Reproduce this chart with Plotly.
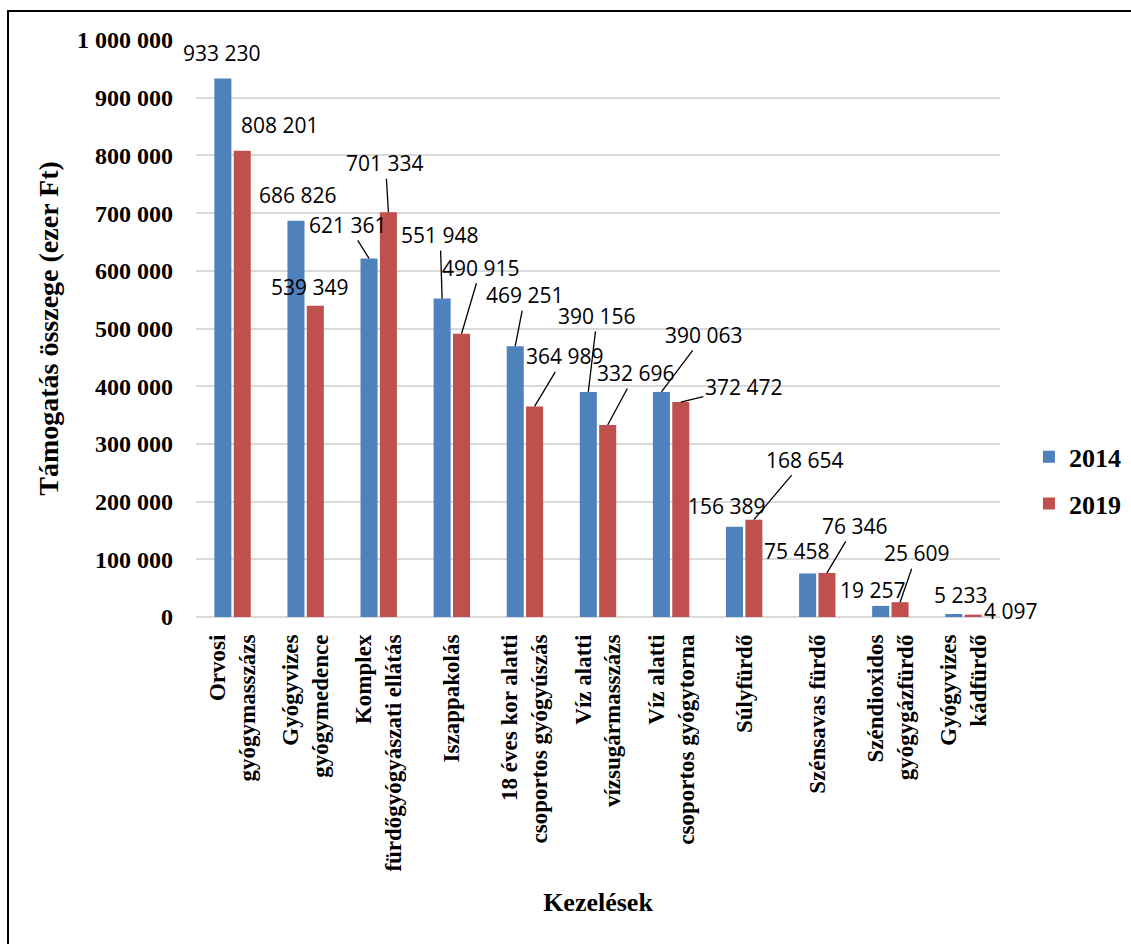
import plotly.graph_objects as go

categories = [
    "Orvosi<br>gyógymasszázs",
    "Gyógyvizes<br>gyógymedence",
    "Komplex<br>fürdőgyógyászati ellátás",
    "Iszappakolás",
    "18 éves kor alatti<br>csoportos gyógyúszás",
    "Víz alatti<br>vízsugármasszázs",
    "Víz alatti<br>csoportos gyógytorna",
    "Súlyfürdő",
    "Szénsavas fürdő",
    "Széndioxidos<br>gyógygázfürdő",
    "Gyógyvizes<br>kádfürdő",
]
values_2014 = [933230, 686826, 621361, 551948, 469251, 390156, 390063, 156389, 75458, 19257, 5233]
values_2019 = [808201, 539349, 701334, 490915, 364989, 332696, 372472, 168654, 76346, 25609, 4097]
series_names = ["2014", "2019"]
y_tick_values = [0, 100000, 200000, 300000, 400000, 500000, 600000, 700000, 800000, 900000, 1000000]

# label placement (pixel offsets of the label centre from the bar top, leader line flag)
label_offsets_2014 = [(-1, -25.5, False), (2, -26, False), (-21, -33.5, True), (-2, -63.5, True),
                      (10, -51, True), (9, -76, True), (43, -57, True), (-7, -21, False),
                      (-11, -22.5, False), (-8, -16, False), (7, -19, False)]
label_offsets_2019 = [(38, -26, False), (-5, -19, False), (-3, -49, True), (19.5, -66, True),
                      (30, -50, True), (28, -52, True), (63, -15, True), (51, -60, True),
                      (28, -47, True), (17, -49, True), (37, -4, False)]

BLUE = "#4F81BD"
RED = "#C0504D"
SERIF = "Liberation Serif"
SANS = "Open Sans"

fig = go.Figure()
fig.add_bar(x=categories, y=values_2014, name=series_names[0], marker_color=BLUE,
            marker_line_width=0, legendgroup="a")
fig.add_bar(x=categories, y=values_2019, name=series_names[1], marker_color=RED,
            marker_line_width=0, legendgroup="b")


def fmt(v):
    return f"{v:,}".replace(",", " ")


half_slot = 9.7
label_font = dict(family=SANS, size=21, color="black")
annotations = []
for vals, offs, shift in ((values_2014, label_offsets_2014, -half_slot),
                          (values_2019, label_offsets_2019, half_slot)):
    for cat, v, (dx, dy, line) in zip(categories, vals, offs):
        if line:
            annotations.append(dict(x=cat, y=v, xref="x", yref="y", text=fmt(v),
                                    showarrow=True, arrowhead=0, arrowwidth=1.3,
                                    arrowcolor="black", ax=dx, ay=dy, xshift=shift,
                                    standoff=0, startstandoff=0, font=label_font))
        else:
            annotations.append(dict(x=cat, y=v, xref="x", yref="y", text=fmt(v),
                                    showarrow=False, xshift=shift + dx, yshift=-dy,
                                    font=label_font))

fig.update_layout(
    width=1131, height=944,
    margin=dict(l=196, r=131, t=40, b=327, autoexpand=False),
    paper_bgcolor="white", plot_bgcolor="white",
    font=dict(family=SERIF, color="black"),
    barmode="group", bargap=0.47, bargroupgap=0.12,
    separators=", ",
    annotations=annotations,
    showlegend=True,
    legend=dict(x=1.036, y=0.237, xanchor="left", yanchor="middle",
                font=dict(family=SERIF, size=26, color="black", weight="bold"),
                tracegroupgap=10, itemwidth=30),
    shapes=[dict(type="rect", xref="paper", yref="paper",
                 x0=-0.2338, y0=-0.8, x1=1.3, y1=1.0503,
                 line=dict(color="black", width=2), fillcolor="rgba(0,0,0,0)")],
)
fig.update_yaxes(
    range=[0, 1000000], tickvals=y_tick_values, tickformat=",d",
    showgrid=True, gridcolor="#D9D9D9", gridwidth=1.5,
    zeroline=True, zerolinecolor="#D9D9D9", zerolinewidth=1.5,
    showline=False, ticklabelstandoff=22, automargin=False,
    tickfont=dict(family=SERIF, size=24, color="black", weight="bold"),
    title=dict(text="Támogatás összege (ezer Ft)", standoff=10,
               font=dict(family=SERIF, size=28, color="black", weight="bold")),
)
fig.update_xaxes(
    type="category", range=[-0.5, 10.5], tickangle=-90, showgrid=False, showline=False,
    ticklabelstandoff=12, automargin=False,
    tickfont=dict(family=SERIF, size=23, color="black", weight="bold"),
    title=dict(text="Kezelések", standoff=22,
               font=dict(family=SERIF, size=26, color="black", weight="bold")),
)

fig.write_html("out.html")
